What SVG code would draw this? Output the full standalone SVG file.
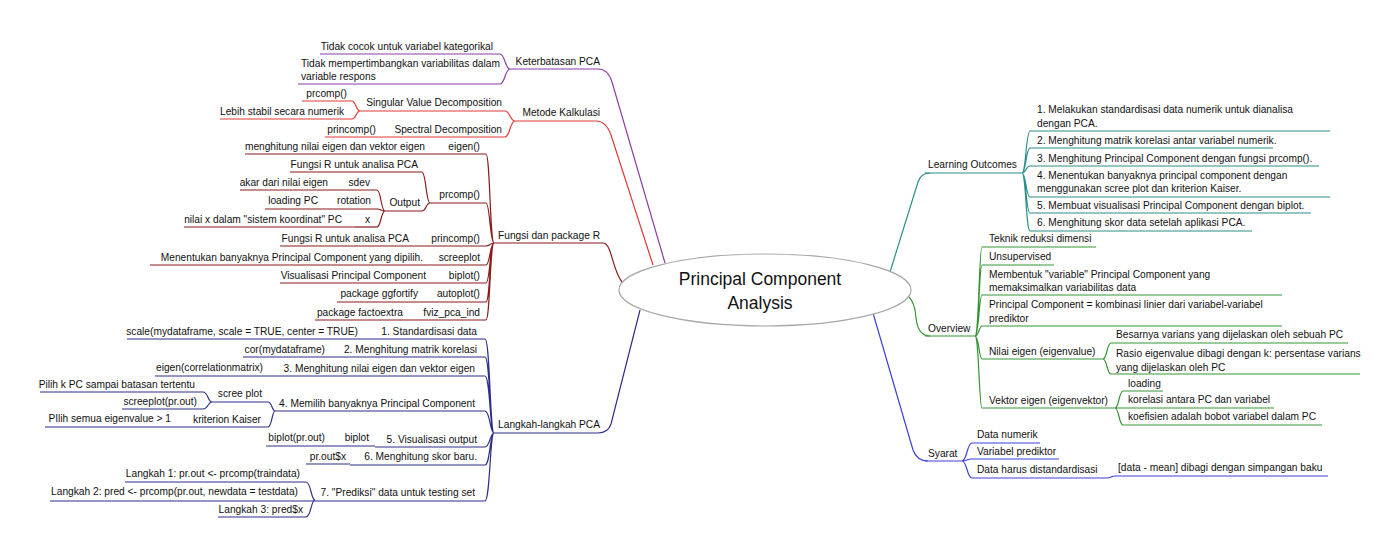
<svg xmlns="http://www.w3.org/2000/svg" width="1400" height="557" viewBox="0 0 1400 557">
<style>
text{font-family:"Liberation Sans",Arial,sans-serif;font-size:10.2px;fill:#111}
.e{text-anchor:end}
.title{font-size:17.5px;text-anchor:middle}
path,line{fill:none;stroke-width:1.2}
.k{stroke:#8a3fa8}.m{stroke:#e03a36}.f{stroke:#8b1a1a}.l{stroke:#2e2e8a}
.lo{stroke:#2a9088}.ov{stroke:#369436}.sy{stroke:#4040d8}
</style>
<rect width="1400" height="557" fill="#fff"/>
<g id="connectors">
<path class="k" d="M665,263 L612,82 Q608,69 598,69"/>
<path class="k" d="M500,54 C505,54 505,69 510,69 M500,84 C505,84 505,69 510,69"/>
<path class="m" d="M653,265 L611,135 Q606,121 596,121"/>
<path class="m" d="M505,111 C510,111 510,121 515,121 M505,137 C510,137 510,121 515,121 M352,101 C356,101 356,111 360,111 M352,119 C356,119 356,111 360,111"/>
<path class="f" d="M603,243 C612,243 612,270 622,282"/>
<path class="f" d="M486,154 C490,154 490,243 494,243 M486,203 C490,203 490,243 494,243 M486,246 C490,246 490,243 494,243 M486,265 C490,265 490,243 494,243 M486,283 C490,283 490,243 494,243 M486,302 C490,302 490,243 494,243 M486,320 C490,320 490,243 494,243"/>
<path class="f" d="M422,172 C426,172 426,203 430,203 M422,211 C426,211 426,203 430,203 M377,190 C381,190 381,211 385,211 M377,209 C381,209 381,211 385,211 M377,227 C381,227 381,211 385,211"/>
<path class="l" d="M640,310 L611,424 Q608,433 598,433"/>
<path class="l" d="M485,339 C490,339 490,433 494,433 M485,357 C490,357 490,433 494,433 M485,376 C490,376 490,433 494,433 M485,411 C490,411 490,433 494,433 M485,447 C490,447 490,433 494,433 M485,465 C490,465 490,433 494,433 M485,501 C490,501 490,433 494,433"/>
<path class="l" d="M268,402 C272,402 272,411 275,411 M268,427 C272,427 272,411 275,411 M203,392 C208,392 208,402 212,402 M203,409 C208,409 208,402 212,402 M306,482 C311,482 311,500 315,500 M306,517 C311,517 311,500 315,500"/>
<path class="lo" d="M890,272 L918,182 Q921,173 930,173"/>
<path class="lo" d="M1022,173 C1026,173 1026,131 1030,131 M1022,173 C1026,173 1026,148 1030,148 M1022,173 C1026,173 1026,166 1030,166 M1022,173 C1026,173 1026,197 1030,197 M1022,173 C1026,173 1026,213 1030,213 M1022,173 C1026,173 1026,231 1030,231"/>
<path class="ov" d="M908,296 Q915,302 916,318 Q918,336 930,336"/>
<path class="ov" d="M975,336 C979,336 979,247 982,247 M975,336 C979,336 979,265 982,265 M975,336 C979,336 979,295 982,295 M975,336 C979,336 979,326 982,326 M975,336 C979,336 979,359 982,359 M975,336 C979,336 979,408 982,408"/>
<path class="ov" d="M1103,359 C1107,359 1107,343 1111,343 M1103,359 C1107,359 1107,374 1111,374 M1115,408 C1119,408 1119,391 1123,391 M1115,408 C1119,408 1119,408 1123,408 M1115,408 C1119,408 1119,425 1123,425"/>
<path class="sy" d="M873,313 L913,450 Q917,461 928,461"/>
<path class="sy" d="M962,461 C967,461 967,443 972,443 M962,461 C967,461 967,459 972,459 M962,461 C967,461 967,478 972,478 M1107,478 C1111,478 1111,476 1115,476"/>
</g>
<g id="root">
<ellipse cx="765" cy="290" rx="146" ry="36" fill="#fff" stroke="#a8a8a8" stroke-width="1.2"/>
<text class="title" x="760" y="285">Principal Component</text>
<text class="title" x="760" y="309">Analysis</text>
</g>
<g id="keterbatasan"><line class="k" x1="510" y1="69" x2="598" y2="69"/><text class="e" x="600" y="65">Keterbatasan PCA</text></g>
<g id="k1"><line class="k" x1="320" y1="54" x2="500" y2="54"/><text class="e" x="493" y="50">Tidak cocok untuk variabel kategorikal</text></g>
<g id="k2"><line class="k" x1="298" y1="84" x2="500" y2="84"/><text x="301" y="67">Tidak mempertimbangkan variabilitas dalam</text><text x="301" y="80">variable respons</text></g>
<g id="metode"><line class="m" x1="515" y1="121" x2="596" y2="121"/><text class="e" x="600" y="116">Metode Kalkulasi</text></g>
<g id="m1"><line class="m" x1="360" y1="111" x2="505" y2="111"/><text class="e" x="502" y="106">Singular Value Decomposition</text></g>
<g id="m1a"><line class="m" x1="302" y1="101" x2="352" y2="101"/><text class="e" x="347" y="97">prcomp()</text></g>
<g id="m1b"><line class="m" x1="220" y1="119" x2="352" y2="119"/><text class="e" x="344" y="115">Lebih stabil secara numerik</text></g>
<g id="m2"><line class="m" x1="385" y1="137" x2="505" y2="137"/><text class="e" x="502" y="133">Spectral Decomposition</text></g>
<g id="m2a"><line class="m" x1="325" y1="137" x2="385" y2="137"/><text class="e" x="376" y="133">princomp()</text></g>
<g id="fungsi"><line class="f" x1="494" y1="243" x2="603" y2="243"/><text class="e" x="600" y="239">Fungsi dan package R</text></g>
<g id="f-eigen"><line class="f" x1="440" y1="154" x2="486" y2="154"/><text class="e" x="480" y="150">eigen()</text></g>
<g id="f-eigen-1"><line class="f" x1="245" y1="154" x2="440" y2="154"/><text class="e" x="425" y="150">menghitung nilai eigen dan vektor eigen</text></g>
<g id="f-prcomp"><line class="f" x1="430" y1="203" x2="486" y2="203"/><text class="e" x="480" y="198">prcomp()</text></g>
<g id="f-prcomp-1"><line class="f" x1="290" y1="172" x2="422" y2="172"/><text class="e" x="418" y="168">Fungsi R untuk analisa PCA</text></g>
<g id="f-output"><line class="f" x1="385" y1="211" x2="422" y2="211"/><text class="e" x="420" y="206">Output</text></g>
<g id="f-sdev"><line class="f" x1="343" y1="190" x2="377" y2="190"/><text class="e" x="370" y="186">sdev</text></g>
<g id="f-sdev-1"><line class="f" x1="240" y1="190" x2="343" y2="190"/><text class="e" x="328" y="186">akar dari nilai eigen</text></g>
<g id="f-rotation"><line class="f" x1="334" y1="209" x2="377" y2="209"/><text class="e" x="371" y="204">rotation</text></g>
<g id="f-rotation-1"><line class="f" x1="265" y1="209" x2="334" y2="209"/><text class="e" x="318" y="204">loading PC</text></g>
<g id="f-x"><line class="f" x1="355" y1="227" x2="377" y2="227"/><text class="e" x="370" y="223">x</text></g>
<g id="f-x-1"><line class="f" x1="184" y1="227" x2="355" y2="227"/><text class="e" x="342" y="223">nilai x dalam "sistem koordinat" PC</text></g>
<g id="f-princomp"><line class="f" x1="428" y1="246" x2="486" y2="246"/><text class="e" x="480" y="242">princomp()</text></g>
<g id="f-princomp-1"><line class="f" x1="280" y1="246" x2="428" y2="246"/><text class="e" x="409" y="242">Fungsi R untuk analisa PCA</text></g>
<g id="f-screeplot"><line class="f" x1="436" y1="265" x2="486" y2="265"/><text class="e" x="480" y="261">screeplot</text></g>
<g id="f-screeplot-1"><line class="f" x1="150" y1="265" x2="436" y2="265"/><text class="e" x="423" y="261">Menentukan banyaknya Principal Component yang dipilih.</text></g>
<g id="f-biplot"><line class="f" x1="440" y1="283" x2="486" y2="283"/><text class="e" x="480" y="279">biplot()</text></g>
<g id="f-biplot-1"><line class="f" x1="280" y1="283" x2="440" y2="283"/><text class="e" x="426" y="279">Visualisasi Principal Component</text></g>
<g id="f-autoplot"><line class="f" x1="432" y1="302" x2="486" y2="302"/><text class="e" x="480" y="297">autoplot()</text></g>
<g id="f-autoplot-1"><line class="f" x1="337" y1="302" x2="432" y2="302"/><text class="e" x="418" y="297">package ggfortify</text></g>
<g id="f-fviz"><line class="f" x1="418" y1="320" x2="486" y2="320"/><text class="e" x="480" y="316">fviz_pca_ind</text></g>
<g id="f-fviz-1"><line class="f" x1="315" y1="320" x2="418" y2="320"/><text class="e" x="403" y="316">package factoextra</text></g>
<g id="langkah"><line class="l" x1="494" y1="433" x2="598" y2="433"/><text class="e" x="600" y="428">Langkah-langkah PCA</text></g>
<g id="l1"><line class="l" x1="373" y1="339" x2="485" y2="339"/><text class="e" x="477" y="335">1. Standardisasi data</text></g>
<g id="l1a"><line class="l" x1="127" y1="339" x2="373" y2="339"/><text class="e" x="358" y="335">scale(mydataframe, scale = TRUE, center = TRUE)</text></g>
<g id="l2"><line class="l" x1="335" y1="357" x2="485" y2="357"/><text class="e" x="477" y="353">2. Menghitung matrik korelasi</text></g>
<g id="l2a"><line class="l" x1="243" y1="357" x2="335" y2="357"/><text class="e" x="325" y="353">cor(mydataframe)</text></g>
<g id="l3"><line class="l" x1="275" y1="376" x2="485" y2="376"/><text class="e" x="475" y="372">3. Menghitung nilai eigen dan vektor eigen</text></g>
<g id="l3a"><line class="l" x1="155" y1="376" x2="275" y2="376"/><text class="e" x="263" y="371">eigen(correlationmatrix)</text></g>
<g id="l4"><line class="l" x1="275" y1="411" x2="485" y2="411"/><text class="e" x="475" y="407">4. Memilih banyaknya Principal Component</text></g>
<g id="l4a"><line class="l" x1="212" y1="402" x2="268" y2="402"/><text class="e" x="262" y="397">scree plot</text></g>
<g id="l4a1"><line class="l" x1="40" y1="392" x2="203" y2="392"/><text class="e" x="195" y="388">Pilih k PC sampai batasan tertentu</text></g>
<g id="l4a2"><line class="l" x1="122" y1="409" x2="203" y2="409"/><text class="e" x="197" y="405">screeplot(pr.out)</text></g>
<g id="l4b"><line class="l" x1="175" y1="427" x2="268" y2="427"/><text class="e" x="261" y="423">kriterion Kaiser</text></g>
<g id="l4b1"><line class="l" x1="45" y1="427" x2="175" y2="427"/><text class="e" x="171" y="422">PIlih semua eigenvalue &gt; 1</text></g>
<g id="l5"><line class="l" x1="375" y1="447" x2="485" y2="447"/><text class="e" x="477" y="443">5. Visualisasi output</text></g>
<g id="l5a"><line class="l" x1="333" y1="446" x2="375" y2="446"/><text class="e" x="369" y="441">biplot</text></g>
<g id="l5a1"><line class="l" x1="266" y1="446" x2="333" y2="446"/><text class="e" x="325" y="441">biplot(pr.out)</text></g>
<g id="l6"><line class="l" x1="350" y1="465" x2="485" y2="465"/><text class="e" x="477" y="460">6. Menghitung skor baru.</text></g>
<g id="l6a"><line class="l" x1="306" y1="464" x2="350" y2="464"/><text class="e" x="346" y="460">pr.out$x</text></g>
<g id="l7"><line class="l" x1="315" y1="501" x2="485" y2="501"/><text class="e" x="475" y="496">7. "Prediksi" data untuk testing set</text></g>
<g id="l7a"><line class="l" x1="125" y1="482" x2="306" y2="482"/><text class="e" x="300" y="477">Langkah 1: pr.out &lt;- prcomp(traindata)</text></g>
<g id="l7b"><line class="l" x1="50" y1="501" x2="315" y2="501"/><text class="e" x="298" y="495">Langkah 2: pred &lt;- prcomp(pr.out, newdata = testdata)</text></g>
<g id="l7c"><line class="l" x1="218" y1="517" x2="306" y2="517"/><text class="e" x="303" y="513">Langkah 3: pred$x</text></g>
<g id="learning"><line class="lo" x1="925" y1="173" x2="1022" y2="173"/><text x="928" y="168">Learning Outcomes</text></g>
<g id="lo1"><line class="lo" x1="1030" y1="131" x2="1330" y2="131"/><text x="1037" y="113">1. Melakukan standardisasi data numerik untuk dianalisa</text><text x="1037" y="127">dengan PCA.</text></g>
<g id="lo2"><line class="lo" x1="1030" y1="148" x2="1273" y2="148"/><text x="1037" y="144">2. Menghitung matrik korelasi antar variabel numerik.</text></g>
<g id="lo3"><line class="lo" x1="1030" y1="166" x2="1319" y2="166"/><text x="1037" y="162">3. Menghitung Principal Component dengan fungsi prcomp().</text></g>
<g id="lo4"><line class="lo" x1="1030" y1="197" x2="1330" y2="197"/><text x="1037" y="179">4. Menentukan banyaknya principal component dengan</text><text x="1037" y="192">menggunakan scree plot dan kriterion Kaiser.</text></g>
<g id="lo5"><line class="lo" x1="1030" y1="213" x2="1311" y2="213"/><text x="1037" y="209">5. Membuat visualisasi Principal Component dengan biplot.</text></g>
<g id="lo6"><line class="lo" x1="1030" y1="231" x2="1252" y2="231"/><text x="1037" y="226">6. Menghitung skor data setelah aplikasi PCA.</text></g>
<g id="overview"><line class="ov" x1="925" y1="336" x2="975" y2="336"/><text x="928" y="332">Overview</text></g>
<g id="ov1"><line class="ov" x1="982" y1="247" x2="1096" y2="247"/><text x="989" y="242">Teknik reduksi dimensi</text></g>
<g id="ov2"><line class="ov" x1="982" y1="265" x2="1054" y2="265"/><text x="989" y="260">Unsupervised</text></g>
<g id="ov3"><line class="ov" x1="982" y1="295" x2="1282" y2="295"/><text x="989" y="278">Membentuk "variable" Principal Component yang</text><text x="989" y="291">memaksimalkan variabilitas data</text></g>
<g id="ov4"><line class="ov" x1="982" y1="326" x2="1282" y2="326"/><text x="989" y="308">Principal Component = kombinasi linier dari variabel-variabel</text><text x="989" y="322">prediktor</text></g>
<g id="ov5"><line class="ov" x1="982" y1="359" x2="1103" y2="359"/><text x="989" y="355">Nilai eigen (eigenvalue)</text></g>
<g id="ov5a"><line class="ov" x1="1111" y1="343" x2="1348" y2="343"/><text x="1116" y="338">Besarnya varians yang dijelaskan oleh sebuah PC</text></g>
<g id="ov5b"><line class="ov" x1="1111" y1="374" x2="1360" y2="374"/><text x="1116" y="357">Rasio eigenvalue dibagi dengan k: persentase varians</text><text x="1116" y="371">yang dijelaskan oleh PC</text></g>
<g id="ov6"><line class="ov" x1="982" y1="408" x2="1115" y2="408"/><text x="989" y="404">Vektor eigen (eigenvektor)</text></g>
<g id="ov6a"><line class="ov" x1="1123" y1="391" x2="1163" y2="391"/><text x="1128" y="387">loading</text></g>
<g id="ov6b"><line class="ov" x1="1123" y1="408" x2="1274" y2="408"/><text x="1128" y="403">korelasi antara PC dan variabel</text></g>
<g id="ov6c"><line class="ov" x1="1123" y1="425" x2="1322" y2="425"/><text x="1128" y="420">koefisien adalah bobot variabel dalam PC</text></g>
<g id="syarat"><line class="sy" x1="925" y1="461" x2="962" y2="461"/><text x="928" y="457">Syarat</text></g>
<g id="sy1"><line class="sy" x1="972" y1="443" x2="1040" y2="443"/><text x="977" y="438">Data numerik</text></g>
<g id="sy2"><line class="sy" x1="972" y1="459" x2="1059" y2="459"/><text x="977" y="455">Variabel prediktor</text></g>
<g id="sy3"><line class="sy" x1="972" y1="478" x2="1107" y2="478"/><text x="977" y="473">Data harus distandardisasi</text></g>
<g id="sy3a"><line class="sy" x1="1115" y1="476" x2="1328" y2="476"/><text x="1118" y="471">[data - mean] dibagi dengan simpangan baku</text></g>
</svg>
